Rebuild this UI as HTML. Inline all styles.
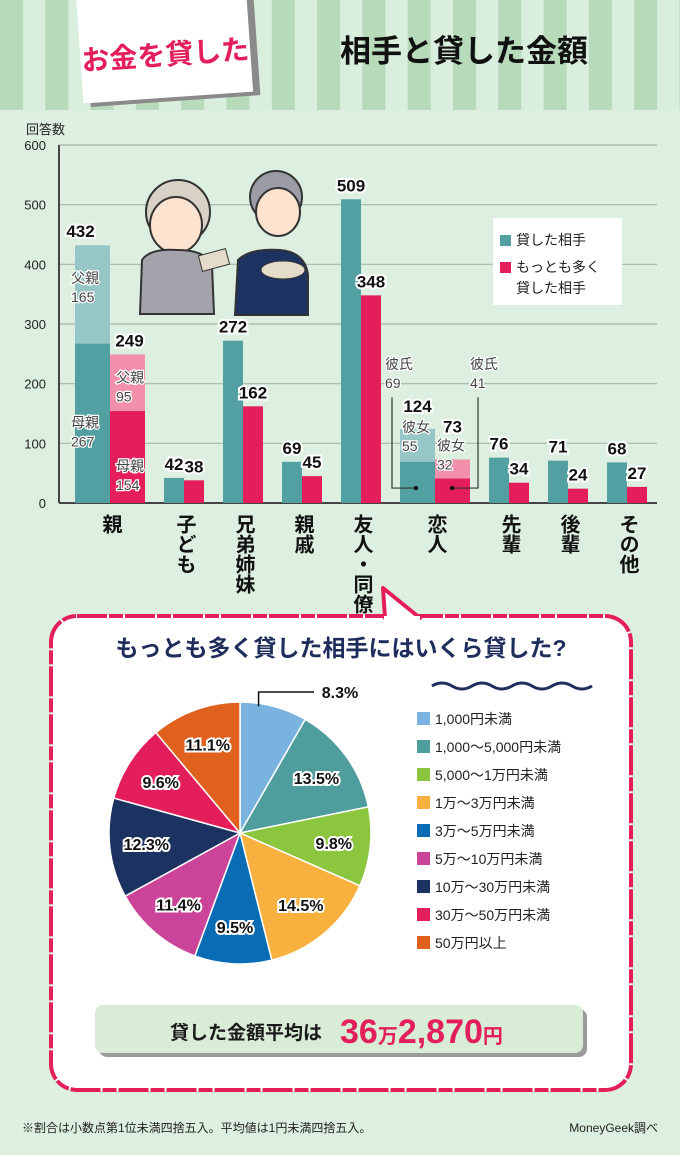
<!DOCTYPE html>
<html><head><meta charset="utf-8">
<style>
body{margin:0;width:680px;height:1150px;overflow:hidden;background:#dcefe0;font-family:"Liberation Sans","Noto Sans CJK JP",sans-serif;}
svg text{font-family:"Liberation Sans","Noto Sans CJK JP",sans-serif;}
</style></head>
<body>
<svg id="root" width="680" height="1150" viewBox="0 0 680 1150" xmlns="http://www.w3.org/2000/svg">
<defs>
<pattern id="stripes" width="45.3" height="110" patternUnits="userSpaceOnUse">
<rect width="45.3" height="110" fill="#d9eedd"/><rect width="23" height="110" fill="#b7dabb"/>
</pattern>
</defs>
<rect width="680" height="1150" fill="#dcefe0"/>
<rect width="680" height="110" fill="url(#stripes)"/>
<g transform="rotate(-4 160 50)">
<rect x="83" y="-10" width="170" height="108" fill="#8a8a8a" transform="translate(4 4)"/>
<rect x="80" y="-10" width="170" height="108" fill="#fff"/>
<text x="165" y="65" font-size="28" font-weight="bold" fill="#e31e5a" text-anchor="middle">お金を貸した</text>
</g>
<text x="340" y="62" font-size="31" font-weight="bold" fill="#111">相手と貸した金額</text>

<g id="barchart"></g>

<g>
<circle cx="178" cy="212" r="32" fill="#d8d2c6" stroke="#333" stroke-width="2"/>
<ellipse cx="176" cy="225" rx="26" ry="28" fill="#fbe3d0" stroke="#333" stroke-width="2"/>
<path d="M140 314 L142 260 Q150 248 178 250 Q205 250 212 265 L214 314 Z" fill="#a4a3ac" stroke="#333" stroke-width="2"/>
<circle cx="276" cy="197" r="26" fill="#9c9ca8" stroke="#333" stroke-width="2"/>
<ellipse cx="278" cy="212" rx="22" ry="24" fill="#fbe3d0" stroke="#333" stroke-width="2"/>
<path d="M235 315 L238 260 Q250 248 280 250 Q305 252 308 275 L308 315 Z" fill="#1c3361" stroke="#333" stroke-width="2"/>
<rect x="200" y="252" width="28" height="16" fill="#e4dcc8" stroke="#333" transform="rotate(-15 214 260)"/>
<ellipse cx="283" cy="270" rx="22" ry="9" fill="#e4dcc8" stroke="#333"/>
</g>

<g>
<rect x="493" y="218" width="129" height="87" fill="#fff"/>
<rect x="500" y="235" width="11" height="11" fill="#52a0a2"/>
<text x="516" y="245" font-size="14" fill="#222">貸した相手</text>
<rect x="500" y="262" width="11" height="11" fill="#e31e5a"/>
<text x="516" y="272" font-size="14" fill="#222">もっとも多く</text>
<text x="516" y="293" font-size="14" fill="#222">貸した相手</text>
</g>

<g>
<rect x="51" y="616" width="580" height="474" rx="26" fill="#fff" stroke="#e31e5a" stroke-width="4" stroke-dasharray="30 2 14 2"/>
<path d="M383 588 L385 618 L420 618 Z" fill="#fff" stroke="#e31e5a" stroke-width="4" stroke-linejoin="round"/>
<rect x="384" y="616" width="36" height="6" fill="#fff"/>
<text x="341" y="656" font-size="23" font-weight="bold" fill="#1f2d5c" text-anchor="middle">もっとも多く貸した相手にはいくら貸した?</text>
<path d="M432 686 q10 -6 20 0 t20 0 t20 0 t20 0 t20 0 t20 0 t20 0 t20 0" fill="none" stroke="#1f2d5c" stroke-width="3"/>
</g>
<g id="pie"></g>
<g id="pielegend"></g>

<g>
<rect x="99" y="1009" width="488" height="48" rx="8" fill="#9a9a9a"/>
<rect x="95" y="1005" width="488" height="48" rx="8" fill="#d8ecd6"/>
<text x="170" y="1039" font-size="19" font-weight="bold" fill="#1a1a1a">貸した金額平均は</text>
<text x="340" y="1043" font-size="34" font-weight="bold" fill="#e31e5a">36<tspan font-size="20">万</tspan>2,870<tspan font-size="20">円</tspan></text>
</g>
<text x="22" y="1132" font-size="12" fill="#222">※割合は小数点第1位未満四捨五入。平均値は1円未満四捨五入。</text>
<text x="658" y="1132" font-size="12" fill="#222" text-anchor="end">MoneyGeek調べ</text>
</svg>
<script>
const NS='http://www.w3.org/2000/svg';
const categories=['親','子ども','兄弟姉妹','親戚','友人・同僚','恋人','先輩','後輩','その他'];
const lentTo=[432,42,272,69,509,124,76,71,68];
const mostLent=[249,38,162,45,348,73,34,24,27];
const stackLower1=[267,null,null,null,null,69,null,null,null];
const stackLower2=[154,null,null,null,null,41,null,null,null];
const stackUpperLabel1=['父親\n165',null,null,null,null,'彼女\n55',null,null,null];
const stackUpperLabel2=['父親\n95',null,null,null,null,'彼女\n32',null,null,null];
const stackLowerLabel1=['母親\n267',null,null,null,null,'彼氏\n69',null,null,null];
const stackLowerLabel2=['母親\n154',null,null,null,null,'彼氏\n41',null,null,null];
const yTicks=[0,100,200,300,400,500,600];

const pieLabels=['1,000円未満','1,000～5,000円未満','5,000～1万円未満','1万～3万円未満','3万～5万円未満','5万～10万円未満','10万～30万円未満','30万～50万円未満','50万円以上'];
const pieValues=[8.3,13.5,9.8,14.5,9.5,11.4,12.3,9.6,11.1];
const pieColors=['#7ab3df','#4f9d9d','#8cc63f','#f8b03e','#0a6cb5','#cc4499','#1c3361','#e31e5a','#e0601e'];

function el(tag,attrs,parent){const e=document.createElementNS(NS,tag);for(const k in attrs)e.setAttribute(k,attrs[k]);parent.appendChild(e);return e;}
const y0=503,yTop=145,yMax=600;
const y=v=>y0-(v/yMax)*(y0-yTop);
const bc=document.getElementById('barchart');
yTicks.forEach(t=>{
 const l=el('line',{x1:59,x2:657,y1:y(t),y2:y(t),stroke:t===0?'#444':'#a9b5aa','stroke-width':t===0?2:1.2},bc);
 
 
 const tx=el('text',{x:46,y:y(t)+5,'font-size':13,fill:'#222','text-anchor':'end'},bc);tx.textContent=t;
 
 
});
el('line',{x1:59,x2:59,y1:y(yMax),y2:y0,stroke:'#444','stroke-width':2},bc);
const yt=el('text',{x:26,y:134,'font-size':13,fill:'#222'},bc);yt.textContent='回答数';


const wide=categories.map((c,i)=>stackLower1[i]!=null);
const centers=[];let cx=110;
categories.forEach((c,i)=>{if(i>0)cx+=59+15*((wide[i-1]?1:0)+(wide[i]?1:0));centers.push(cx);});
function vlabel(x,yy,val){const t=el('text',{x:x,y:yy,'font-size':17,'font-weight':'bold',fill:'#111','text-anchor':'middle',stroke:'#fff','stroke-width':4,'paint-order':'stroke'},bc);t.textContent=val;
 
 }
function mlabel(x,yy,txt){const parts=txt.split('\n');parts.forEach((p,k)=>{const t=el('text',{x:x,y:yy+k*19,'font-size':14,fill:'#444',stroke:'#fff','stroke-width':2.5,'paint-order':'stroke'},bc);t.textContent=p;
 
 });}
categories.forEach((c,i)=>{
 const w=wide[i]?35:20, x=centers[i];
 const b1=el('rect',{x:x-w,y:y(lentTo[i]),width:w,height:y0-y(lentTo[i]),fill:wide[i]?'#96c6c6':'#52a0a2'},bc);
 
 
 const b2=el('rect',{x:x,y:y(mostLent[i]),width:w,height:y0-y(mostLent[i]),fill:wide[i]?'#f28fab':'#e31e5a'},bc);
 
 
 let off1=-8,off2=-8;
 if(wide[i]){
  const s1=el('rect',{x:x-w,y:y(stackLower1[i]),width:w,height:y0-y(stackLower1[i]),fill:'#52a0a2'},bc);
  
  
  const s2=el('rect',{x:x,y:y(stackLower2[i]),width:w,height:y0-y(stackLower2[i]),fill:'#e31e5a'},bc);
  
  
  if(i===0){
   mlabel(x-w-4,y(lentTo[i])+38,stackUpperLabel1[i]);
   mlabel(x+6,y(mostLent[i])+28,stackUpperLabel2[i]);
   mlabel(x-w-4,y(stackLower1[i])+84,stackLowerLabel1[i]);
   mlabel(x+6,y(stackLower2[i])+60,stackLowerLabel2[i]);
  }else{
   mlabel(x-w+2,y(lentTo[i])+3,stackUpperLabel1[i]);
   mlabel(x+2,y(mostLent[i])-9,stackUpperLabel2[i]);
   mlabel(x-50,y(225),stackLowerLabel1[i]);
   mlabel(x+35,y(225),stackLowerLabel2[i]);
   el('path',{d:`M${x-43} ${y(177)} V${y(25)} H${x-19} M${x+43} ${y(177)} V${y(25)} H${x+17}`,fill:'none',stroke:'#333','stroke-width':1.2},bc);
   el('circle',{cx:x-19,cy:y(25),r:2.2,fill:'#111'},bc);
   el('circle',{cx:x+17,cy:y(25),r:2.2,fill:'#111'},bc);
   off1=-17;off2=-27;
  }
 }
 vlabel(x-w/2-(i===0?12:0),y(lentTo[i])+off1,lentTo[i]);
 vlabel(x+w/2+(i===0?2:0),y(mostLent[i])+off2,mostLent[i]);
 const ct=el('text',{x:x,y:514,'font-size':20,'font-weight':'bold',fill:'#111',style:'writing-mode:vertical-rl'},bc);ct.textContent=categories[i];
 
 
});
const pg=document.getElementById('pie');
const pcx=240,pcy=833,pr=131;
const total=pieValues.reduce((a,b)=>a+b,0);
let ang=0;
pieValues.forEach((v,i)=>{
 const a0=ang,a1=ang+v/total*2*Math.PI;ang=a1;
 const p=(a)=>[pcx+pr*Math.sin(a),pcy-pr*Math.cos(a)];
 const [x0,y0_]=p(a0),[x1,y1]=p(a1);
 const s=el('path',{d:`M${pcx} ${pcy} L${x0} ${y0_} A${pr} ${pr} 0 ${a1-a0>Math.PI?1:0} 1 ${x1} ${y1} Z`,fill:pieColors[i],stroke:'#fff','stroke-width':1.5},pg);
 
 
 const am=(a0+a1)/2;
 let lx,ly;
 if(i===0){lx=340;ly=698;el('path',{d:`M${pcx+pr*0.55*Math.sin(am)} ${pcy-pr*1.0*Math.cos(am)} V${ly-6} H${lx-26}`,fill:'none',stroke:'#111','stroke-width':1.5},pg);}
 else{lx=pcx+pr*0.72*Math.sin(am);ly=pcy-pr*0.72*Math.cos(am)+6;}
 const t=el('text',{x:lx,y:ly,'font-size':16,'font-weight':'bold',fill:'#111','text-anchor':'middle',stroke:'#fff','stroke-width':4,'paint-order':'stroke'},pg);t.textContent=pieValues[i].toFixed(1)+'%';
 
 
});
const pl=document.getElementById('pielegend');
pieLabels.forEach((l,i)=>{
 const yy=712+i*28;
 const r=el('rect',{x:417,y:yy,width:13,height:13,fill:pieColors[i]},pl);
 
 
 const t=el('text',{x:435,y:yy+12,'font-size':14,fill:'#222'},pl);t.textContent=l;
 
 
});
</script>
</body></html>
